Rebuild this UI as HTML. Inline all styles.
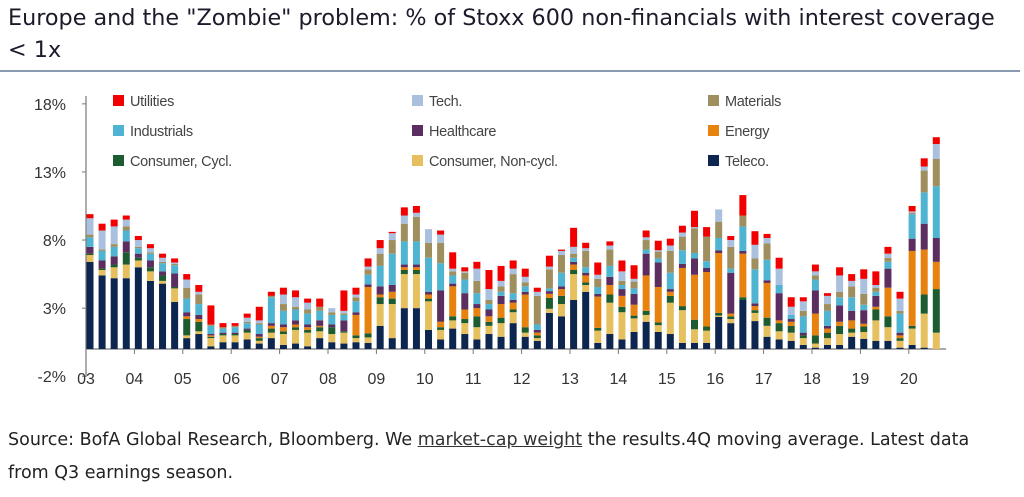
<!DOCTYPE html>
<html><head><meta charset="utf-8"><style>
body{margin:0;width:1024px;height:497px;background:#fff;overflow:hidden;font-family:"Liberation Sans",sans-serif;}
#title{position:absolute;left:8px;top:2px;white-space:nowrap;font-family:"DejaVu Sans",sans-serif;font-size:22.3px;line-height:32px;color:#1b1b2b;}
#rule{position:absolute;left:0;top:70px;width:1020px;height:2px;background:#8a9ab0;}
#source{position:absolute;left:8px;top:424px;white-space:nowrap;font-family:"DejaVu Sans",sans-serif;font-size:17.5px;line-height:33px;color:#222;}
#source u{color:#333}
svg{position:absolute;left:0;top:0}
</style></head><body>
<div id="title">Europe and the "Zombie" problem: % of Stoxx 600 non-financials with interest coverage<br>&lt; 1x</div>
<div id="rule"></div>
<svg id="chart" width="1024" height="497"></svg>
<div id="source">Source: BofA Global Research, Bloomberg. We <u>market-cap weight</u> the results.4Q moving average. Latest data<br>from Q3 earnings season.</div>
<script>
const yTicks=[18,13,8,3,-2];
const yearLabels=["03","04","05","06","07","08","09","10","11","12","13","14","15","16","17","18","19","20"];
const seriesNames=["Teleco.","Consumer, Non-cycl.","Consumer, Cycl.","Energy","Healthcare","Industrials","Materials","Tech.","Utilities"];
const teleco=[6.4,5.4,5.2,5.2,6.0,5.0,4.8,3.45,0.8,1.1,0.2,0.5,0.5,0.7,0.4,0.8,0.3,0.4,0.2,0.8,0.5,0.4,0.5,0.45,1.7,0.8,3.0,3.0,1.4,0.7,1.5,1.1,0.7,1.1,0.9,1.9,0.9,0.6,2.65,2.4,3.6,4.2,0.45,1.1,0.7,1.25,2.0,1.25,1.1,0.45,0.45,0.45,2.35,1.9,3.6,2.05,0.9,0.7,0.6,0.3,0.1,0.3,0.3,0.9,0.75,0.6,0.6,0.1,0.3,0.1,0];
const consNonCycl=[0.5,0.4,0.8,1.0,0.5,0.7,0.2,1.0,0.2,0.2,0.6,0.5,0.5,0.5,0.2,0.4,0.8,1.0,1.0,0.5,0.6,0.8,0.3,0.4,1.6,2.5,2.5,2.5,2.1,0.7,0.6,0.8,0.9,0.6,1.0,0.8,0.3,0.2,0.3,0.9,1.9,0.5,0.9,2.3,2.0,1.0,0.5,0.5,2.3,2.4,1.0,0.9,0.1,0.3,0,0.6,0.8,0.6,0.6,0.5,0.3,0.5,0.8,0.3,0.5,1.5,1.0,0.5,1.2,2.5,1.2];
const consCycl=[0.1,0.1,0.2,0.9,0.2,0.3,0.4,0.1,1.2,0.7,0.1,0.1,0.1,0.2,0.2,0.3,0.2,0.2,0.2,0.3,0.5,0.1,0.2,0.3,0.5,0.4,0.3,0.3,0.2,0.2,0.3,0.3,0.8,0.3,0.4,0.2,0.4,0.2,0.8,0.6,0.3,0.2,0.2,0.6,0.4,0.2,0.3,0.2,0.5,0.3,0.7,0.3,0.2,0.2,0.2,0.2,0.6,0.6,0.5,0.2,0.6,0.4,0.6,0.3,0.4,0.8,0.8,0.2,0.2,1.4,3.2];
const energy=[0,0,0,0,0,0,0,0,0.2,0.2,0.1,0,0,0,0.1,0.2,0.3,0.2,0.2,0.1,0,0,1.5,3.4,0.2,0.5,0.2,0.2,0.3,0.4,2.2,0.7,0.6,0.4,1.0,0.5,2.4,0.2,0.3,0.5,0.4,0.5,2.3,0.7,0.8,0.8,2.6,2.6,0.3,2.8,3.3,4.0,4.4,0.2,3.2,0.3,2.55,0.2,0.3,0,1.6,0.3,0.3,0.6,0.2,0.2,2.1,0.2,5.5,3.3,2.0];
const healthcare=[0.5,0.6,0.6,0.8,0.3,0.5,0.3,1.0,0.3,0.3,0.1,0.1,0.1,0.1,0.2,0.2,0.2,0.3,0.2,0.4,0.2,0.8,0.2,0.2,0.6,0.5,0.2,0.2,0.2,2.3,0.2,1.2,0.3,0.5,0.6,0.2,0.2,0.2,0.2,0.2,0.2,0.2,0.2,0.6,0.5,0.8,1.6,1.8,0.2,0.3,1.2,0.3,0.2,3.0,0.2,0.2,0.2,2.0,0.2,0.2,1.7,0.2,1.2,0.7,1.0,0.8,1.4,0.2,0.9,1.9,1.75];
const industrials=[0.7,0.7,0.7,0.8,0.4,0.5,0.6,0.6,1.0,0.8,0.6,0.3,0.4,0.4,0.7,1.9,1.0,0.8,0.8,0.7,0.7,0.4,0.8,0.7,1.5,2.3,1.7,1.7,2.5,2.0,0.6,1.0,0.8,0.4,0.3,0.5,0.4,0.4,0.2,1.0,0.3,0.4,0.5,0.8,0.3,0.4,0.3,0.3,1.2,1.0,0.4,0.5,0.9,0.3,1.8,2.5,1.5,0.6,0.3,1.2,0.8,1.1,0.6,1.0,0.4,0.3,0.5,1.4,1.8,2.3,3.8];
const materials=[0.2,0.1,0.2,0.3,0.1,0.1,0.1,0.1,0.8,0.7,0.1,0.1,0.1,0.1,0.1,0.1,0.5,0.2,0.3,0.3,0.2,0.1,0.3,0.4,0.9,1.0,1.3,1.8,1.1,1.5,0.3,0.5,0.9,0.3,0.4,1.4,0.3,2.1,1.4,1.3,0.3,1.2,0.6,1.2,0.3,0.5,0.7,0.5,1.6,1.0,1.8,1.8,1.2,1.6,0.8,0.8,1.2,0,0,0.4,0.3,0.5,0.4,0.8,0.8,0.3,0.3,0.2,0.1,1.6,2.0];
const tech=[1.2,1.4,1.3,0.5,0.5,0.3,0.3,0.1,0.6,0.2,0,0,0,0.3,0.2,0,0.7,0.7,0.5,0,0.3,0.2,0.2,0.2,0.4,0.5,0.6,0.3,1.0,0.6,0.2,0.1,0.9,0.8,0.4,0.4,0.4,0.3,0.2,0.3,0.5,0.2,0.3,0.3,0.7,0.2,0.2,0.1,0.4,0.3,0.1,0,0.9,0.5,0,1.0,0.4,1.2,0.6,0.7,0.3,0.6,1.2,0.4,1.1,0.2,0.3,0.9,0.1,0.3,1.1];
const utilities=[0.3,0.5,0.5,0.3,0.3,0.3,0.3,0.3,0.4,0.5,1.4,0.3,0.2,0.3,1.0,0.3,0.5,0.5,0.3,0.6,0,1.5,0.5,0.6,0.6,0.1,0.6,0.5,0,0.3,1.2,0.3,0.5,1.4,1.1,0.6,0.6,0.3,0.8,0.1,1.4,0.4,0.9,0.3,0.8,1.0,0.5,0.7,0.5,0.5,1.2,0.7,0,0.3,1.5,1.0,0.3,0.8,0.7,0.3,0.5,0.2,0.6,0.5,0.7,1.0,0.5,0.5,0.4,0.6,0.5];
const seriesData=[teleco,consNonCycl,consCycl,energy,healthcare,industrials,materials,tech,utilities];
const colors=["#0d2650","#e6c05e","#1d5c30","#e8820f","#5c2e5f","#4fb4d2","#a08f5e","#a9c1de","#f20000"];
const keys=["teleco","cons-non-cycl","cons-cycl","energy","healthcare","industrials","materials","tech","utilities"];

const NS="http://www.w3.org/2000/svg";
const svg=document.getElementById('chart');
function mk(t,a,p){const e=document.createElementNS(NS,t);for(const k in a)e.setAttribute(k,a[k]);(p||svg).appendChild(e);return e;}
const y0=349, pxPer=13.62;
function yS(v){return y0-v*pxPer;}
function xS(i){return 90+i*12.09;}
const bw=7;

let ax=mk('line',{x1:86,y1:96,x2:86,y2:377,stroke:'#777','stroke-width':1.2});


let xa=mk('line',{x1:86,y1:y0,x2:946,y2:y0,stroke:'#777','stroke-width':1.2});


yTicks.forEach(v=>{
  mk('line',{x1:82,y1:yS(v),x2:86,y2:yS(v),stroke:'#777'});
  const t=mk('text',{x:66,y:yS(v)+6,'text-anchor':'end','font-size':16,fill:'#333'});
  t.textContent=v+'%';
  
  
});
yearLabels.forEach((l,k)=>{
  const x=86+k*48.4;
  if(k>0)mk('line',{x1:x,y1:y0,x2:x,y2:y0+5,stroke:'#777'});
  const t=mk('text',{x:x,y:384,'text-anchor':'middle','font-size':16,fill:'#333'});
  t.textContent=l;
  
  
});
for(let i=0;i<teleco.length;i++){
  let base=0;
  seriesData.forEach((s,k)=>{
    const v=s[i]; if(!v){return;}
    const r=mk('rect',{x:xS(i)-bw/2,y:yS(base+v),width:bw,height:v*pxPer,fill:colors[k]});
    
    
    base+=v;
  });
}
const legendOrder=[[8,113,101],[5,113,131],[2,113,161],[7,412,101],[4,412,131],[1,412,161],[6,708,101],[3,708,131],[0,708,161]];
legendOrder.forEach(([k,x,y])=>{
  const g=mk('g',{});
  
  
  mk('rect',{x:x,y:y-6,width:11,height:11,fill:colors[k]},g);
  const t=mk('text',{x:x+17,y:y+5,'font-size':14.5,fill:'#444','letter-spacing':'-0.3'},g);
  t.textContent=seriesNames[k];
});
</script>
</body></html>
